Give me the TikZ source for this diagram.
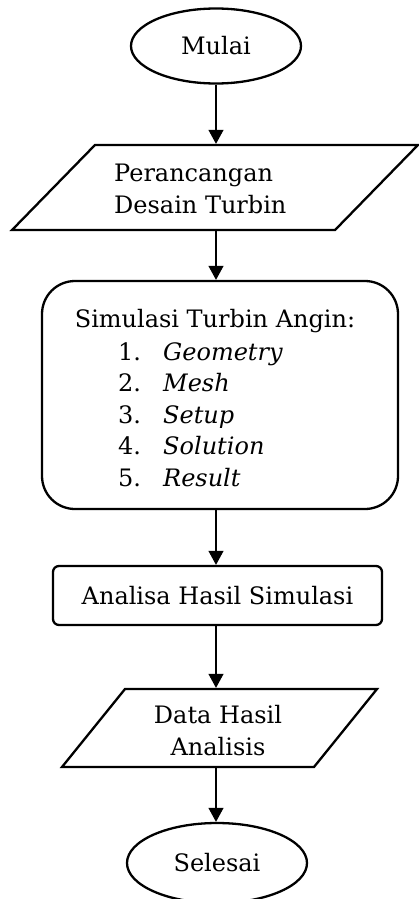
\documentclass[tikz,border=0pt]{standalone}
\usepackage{fontspec}
\setmainfont{DejaVu Serif}
\usetikzlibrary{shapes.geometric,arrows.meta}
\begin{document}
\begin{tikzpicture}[x=1pt,y=-1pt,
  shapeline/.style={draw=black,line width=2.3pt},
  txtfont/.style={font=\fontsize{24}{32}\selectfont},
  txt/.style={inner sep=0pt,txtfont},
  arr/.style={line width=1.1pt,-{Triangle[length=14pt,width=15pt]}},
  para/.style={shapeline,rectangle,inner sep=0pt,transform shape},
  oval/.style={shapeline,ellipse,inner sep=0pt,txtfont}]
\useasboundingbox (0,0) rectangle (419,899);
\clip (0,0) rectangle (419,899);
% start
\node[oval,minimum width=170pt,minimum height=75pt] (mulai) at (216,46) {Mulai};
% input design (parallelogram)
\begin{scope}[shift={(215,187.5)},xslant=0.976]
\node[para,minimum width=323pt,minimum height=85pt] (p1) at (0,0) {};
\end{scope}
\node[txt,align=left,anchor=west] (tp1) at (114,189) {Perancangan\\Desain Turbin};
% simulation
\node[shapeline,rectangle,rounded corners=33pt,minimum width=356pt,minimum height=228pt] (sim) at (220,395) {};
\node[txt,anchor=base] (simt) at (215,327) {Simulasi Turbin Angin:};
\node[txt,anchor=base west] (n1) at (118,360) {1.};
\node[txt,anchor=base west] (i1) at (163,360) {\itshape Geometry};
\node[txt,anchor=base west] (n2) at (118,391) {2.};
\node[txt,anchor=base west] (i2) at (163,391) {\itshape Mesh};
\node[txt,anchor=base west] (n3) at (118,423) {3.};
\node[txt,anchor=base west] (i3) at (163,423) {\itshape Setup};
\node[txt,anchor=base west] (n4) at (118,454) {4.};
\node[txt,anchor=base west] (i4) at (163,454) {\itshape Solution};
\node[txt,anchor=base west] (n5) at (118,486) {5.};
\node[txt,anchor=base west] (i5) at (163,486) {\itshape Result};
% analysis
\node[shapeline,rectangle,rounded corners=6pt,minimum width=329pt,minimum height=59pt,
  txtfont,inner sep=0pt] (ana) at (217.5,595.5) {Analisa Hasil Simulasi};
% output data (parallelogram)
\begin{scope}[shift={(219.5,728)},xslant=0.808]
\node[para,minimum width=252pt,minimum height=78pt] (p2) at (0,0) {};
\end{scope}
\node[txt,align=center] (tp2) at (218,731) {Data Hasil\\Analisis};
% end
\node[oval,minimum width=180pt,minimum height=80pt] (selesai) at (217,863) {Selesai};
% connectors
\draw[arr] (mulai.south) -- (mulai.south |- p1.north);
\draw[arr] (p1.south -| mulai.south) -- (mulai.south |- sim.north);
\draw[arr] (sim.south -| mulai.south) -- (mulai.south |- ana.north);
\draw[arr] (ana.south -| mulai.south) -- (mulai.south |- p2.north);
\draw[arr] (p2.south -| mulai.south) -- (mulai.south |- selesai.north);
\end{tikzpicture}
\end{document}
